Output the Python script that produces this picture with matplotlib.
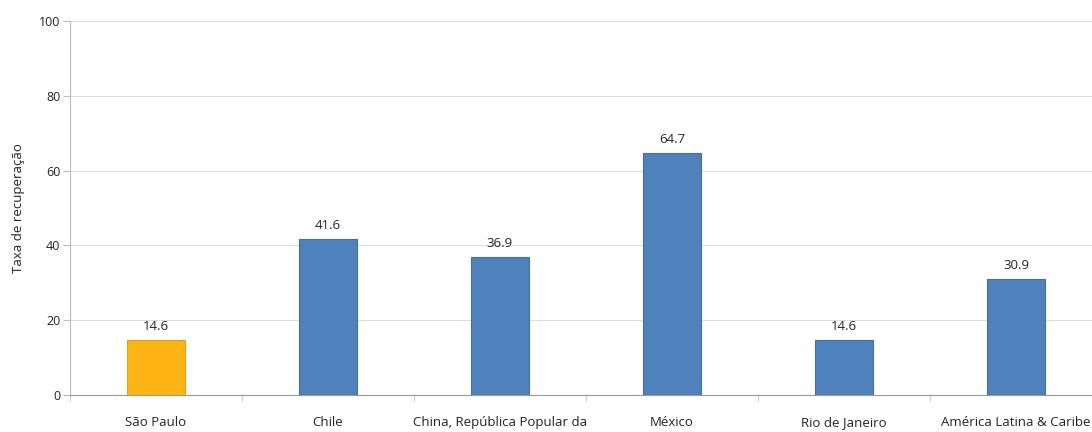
import numpy as np
import matplotlib.pyplot as plt

plt.rcParams["font.family"] = ["Open Sans", "DejaVu Sans"]

categories = ["São Paulo", "Chile", "China, República Popular da", "México",
              "Rio de Janeiro", "América Latina & Caribe"]
values = [14.6, 41.6, 36.9, 64.7, 14.6, 30.9]
highlight = "São Paulo"
y_ticks = [0, 20, 40, 60, 80, 100]

W, H = 1092, 432
fig = plt.figure(figsize=(W / 100, H / 100), dpi=100)
ax = fig.add_axes([70 / W, 1 - 395 / H, 1032 / W, 374 / H])

x = np.arange(len(categories))
colors = ["#FDB515" if c == highlight else "#4F81BD" for c in categories]
edges = ["#E0A010" if c == highlight else "#41709F" for c in categories]
bars = ax.bar(x, values, width=0.34, color=colors, edgecolor=edges,
              linewidth=0.8, zorder=3)

for b, v in zip(bars, values):
    ax.annotate(f"{v:.1f}", (b.get_x() + b.get_width() / 2, v),
                xytext=(0, 5), textcoords="offset points",
                ha="center", va="bottom", fontsize=9.5, color="#222222")

ax.set_xlim(-0.5, len(categories) - 0.5)
ax.set_ylim(0, 100)
ax.set_yticks(y_ticks)
ax.yaxis.grid(True, color="#DDDDDD", linewidth=0.8, zorder=0)
ax.set_axisbelow(True)

ax.set_xticks(x)
ax.set_xticklabels(categories, fontsize=9.5, color="#222222")
ax.set_xticks(np.arange(len(categories) + 1) - 0.5, minor=True)
ax.tick_params(axis="x", which="major", length=0, pad=15)
ax.tick_params(axis="x", which="minor", length=4, color="#BBBBBB")
ax.tick_params(axis="y", length=5, color="#BBBBBB", labelsize=9,
               labelcolor="#222222", pad=2)

for s in ["top", "right"]:
    ax.spines[s].set_visible(False)
ax.spines["left"].set_color("#BBBBBB")
ax.spines["bottom"].set_color("#999999")

ax.set_ylabel("Taxa de recuperação", fontsize=9.5, color="#222222", labelpad=10)

fig.savefig("out.png", dpi=100)
